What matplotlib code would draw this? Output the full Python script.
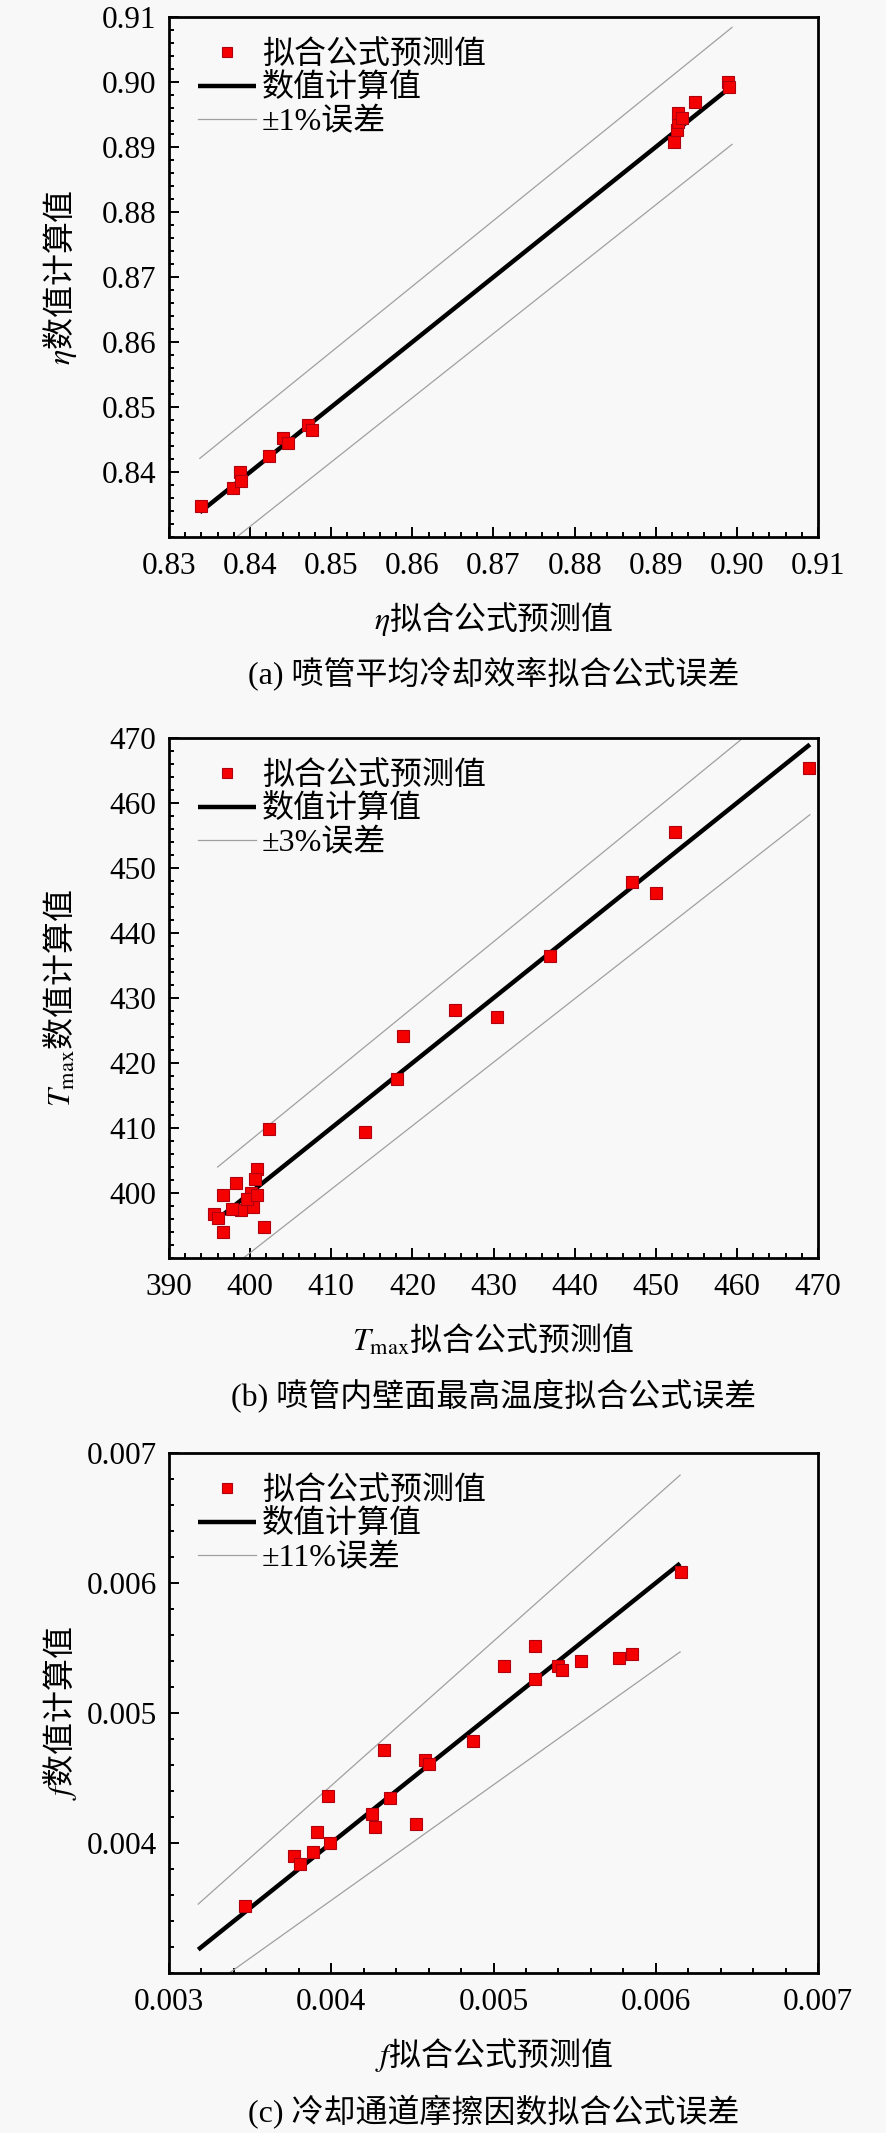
import matplotlib
matplotlib.use("Agg")
import matplotlib.pyplot as plt
from matplotlib.ticker import AutoMinorLocator

# ---- (a) 喷管平均冷却效率 ----
eta_pred = [0.8339, 0.8379, 0.8387, 0.8389, 0.8423, 0.8441, 0.8447, 0.8471, 0.8476,
            0.8922, 0.8926, 0.8928, 0.8928, 0.8932, 0.8948, 0.8989, 0.8990]
eta_calc = [0.8347, 0.8375, 0.8400, 0.8386, 0.8425, 0.8452, 0.8445, 0.8472, 0.8465,
            0.8908, 0.8926, 0.8939, 0.8952, 0.8944, 0.8970, 0.9000, 0.8992]
eta_line = [0.8338, 0.8994]
eta_hi = [0.8421, 0.9084]
eta_lo = [0.8255, 0.8904]

# ---- (b) 内壁面最高温度 ----
t_pred = [452.4, 447.1, 450.0, 437.0, 425.3, 430.4, 418.9, 418.1, 414.2, 402.3,
          401.7, 396.6, 396.7, 395.6, 396.1, 398.2, 400.8, 400.6, 400.1, 400.4,
          398.9, 397.8, 399.6, 400.8, 468.9]
t_calc = [455.5, 447.9, 446.2, 436.4, 428.2, 427.1, 424.2, 417.5, 409.4, 409.9,
          394.8, 394.0, 399.7, 396.8, 396.2, 401.6, 403.7, 402.1, 400.0, 397.9,
          397.4, 397.5, 399.1, 399.7, 465.4]
t_line = [396.0, 469.0]
t_hi = [404.0, 478.4]
t_lo = [386.9, 458.2]

# ---- (c) 冷却通道摩擦因数 ----
f_pred = [0.003468, 0.003768, 0.003808, 0.003886, 0.003914, 0.003992, 0.003980,
          0.004252, 0.004271, 0.004323, 0.004363, 0.004524, 0.004578, 0.004602,
          0.004871, 0.005067, 0.005256, 0.005256, 0.005398, 0.005421, 0.005540,
          0.005771, 0.005854, 0.006154]
f_calc = [0.003518, 0.003903, 0.003838, 0.003928, 0.004082, 0.003997, 0.004359,
          0.004223, 0.004121, 0.004718, 0.004346, 0.004146, 0.004641, 0.004608,
          0.004787, 0.005359, 0.005513, 0.005262, 0.005364, 0.005333, 0.005397,
          0.005421, 0.005454, 0.006082]
f_line = [0.00318, 0.00615]
f_hi = [0.00353, 0.00683]
f_lo = [0.00283, 0.00547]

panels = [
    dict(px=eta_pred, py=eta_calc, lx=eta_line, hi=eta_hi, lo=eta_lo,
         lim=(0.83, 0.91), step=0.01, fmt="{:.2f}", err="±1%误差",
         xlabel=r"$\eta$拟合公式预测值", ylabel=r"$\eta$数值计算值",
         caption="(a) 喷管平均冷却效率拟合公式误差", top=17, cap_y=673),
    dict(px=t_pred, py=t_calc, lx=t_line, hi=t_hi, lo=t_lo,
         lim=(390, 470), step=10, fmt="{:.0f}", err="±3%误差",
         xlabel=r"$T_{\mathrm{max}}$拟合公式预测值", ylabel=r"$T_{\mathrm{max}}$数值计算值",
         caption="(b) 喷管内壁面最高温度拟合公式误差", top=738, cap_y=1396),
    dict(px=f_pred, py=f_calc, lx=f_line, hi=f_hi, lo=f_lo,
         lim=(0.003, 0.007), step=0.001, fmt="{:.3f}", err="±11%误差",
         xlabel=r"$f$拟合公式预测值", ylabel=r"$f$数值计算值",
         caption="(c) 冷却通道摩擦因数拟合公式误差", top=1453, cap_y=2112),
]

plt.rcParams["mathtext.fontset"] = "stix"
W, H = 886, 2133
MIXED = ["Liberation Serif", "Noto Sans CJK SC"]
fig = plt.figure(figsize=(W / 100, H / 100), dpi=100, facecolor="#f8f8f8")

left, right, ax_h = 169, 818, 520
for p in panels:
    ax = fig.add_axes([left / W, 1 - (p["top"] + ax_h) / H, (right - left) / W, ax_h / H])
    ax.set_facecolor("#f8f8f8")
    ax.plot(p["lx"], p["hi"], color="#a0a0a0", lw=0.9, label=p["err"])
    ax.plot(p["lx"], p["lo"], color="#a0a0a0", lw=0.9)
    ax.plot(p["lx"], p["lx"], color="black", lw=3.2, label="数值计算值", solid_capstyle="butt")
    ax.plot(p["px"], p["py"], "s", color="#f40000", mec="#b00010", mew=0.8, ms=9,
            label="拟合公式预测值", zorder=5)

    lo_, hi_ = p["lim"]
    ax.set_xlim(lo_, hi_)
    ax.set_ylim(lo_, hi_)
    n = int(round((hi_ - lo_) / p["step"]))
    ticks = [lo_ + i * p["step"] for i in range(n + 1)]
    ax.set_xticks(ticks)
    ax.set_xticklabels([p["fmt"].format(t) for t in ticks])
    ax.set_yticks(ticks[1:])
    ax.set_yticklabels([p["fmt"].format(t) for t in ticks[1:]])
    ax.xaxis.set_minor_locator(AutoMinorLocator(5))
    ax.yaxis.set_minor_locator(AutoMinorLocator(5))
    ax.tick_params(which="both", direction="in", top=False, right=False, width=1.4)
    ax.tick_params(which="major", length=7, labelsize=22.5)
    ax.tick_params(which="minor", length=3.5)
    ax.tick_params(axis="x", pad=11)
    ax.tick_params(axis="y", pad=9)
    for lab in ax.get_xticklabels() + ax.get_yticklabels():
        lab.set_family("Liberation Serif")
    for sp in ax.spines.values():
        sp.set_linewidth(2)

    ax.set_xlabel(p["xlabel"], fontsize=23, family="Noto Sans CJK SC", va="center")
    ax.set_ylabel(p["ylabel"], fontsize=23, family="Noto Sans CJK SC", va="center")
    ax.xaxis.set_label_coords(0.5, -82 / ax_h)
    ax.yaxis.set_label_coords((60 - left) / (right - left), 0.5)

    h, l = ax.get_legend_handles_labels()
    order = [2, 1, 0]
    ax.legend([h[i] for i in order], [l[i] for i in order], loc="upper left",
              bbox_to_anchor=(0.045, 0.955), frameon=False, borderpad=0,
              borderaxespad=0, handlelength=1.8, handletextpad=0.2,
              labelspacing=0.12, markerscale=0.75, prop={"family": MIXED, "size": 23})

    fig.text((left + right) / 2 / W, 1 - p["cap_y"] / H, p["caption"], ha="center",
             va="center", fontsize=23, family=MIXED)

fig.savefig("out.png", dpi=100, facecolor=fig.get_facecolor())
